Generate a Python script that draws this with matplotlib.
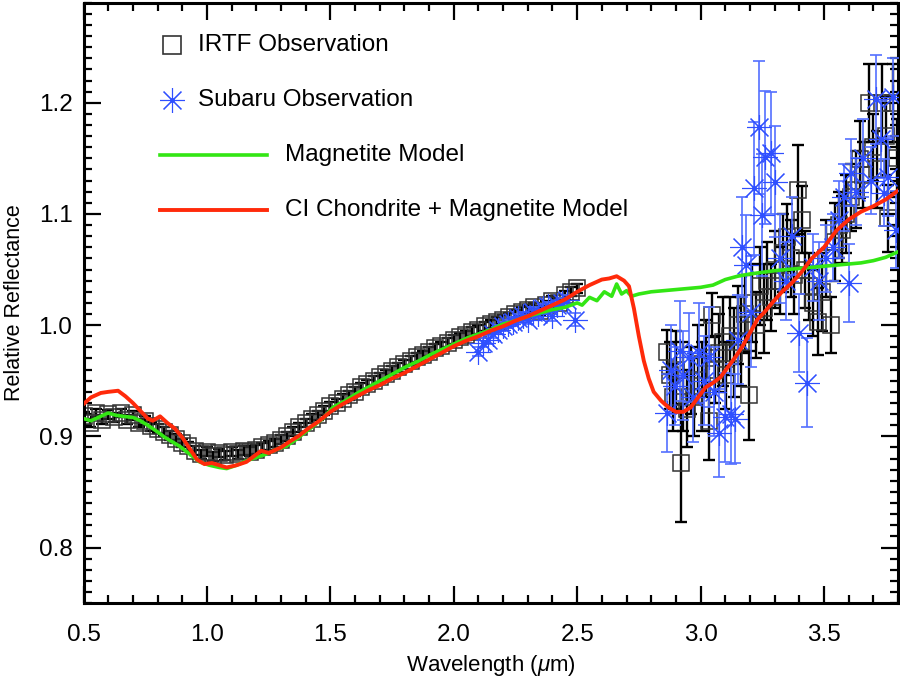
import matplotlib
matplotlib.use("Agg")
import matplotlib.pyplot as plt
from matplotlib.ticker import MultipleLocator, FormatStrFormatter

# ---------------- DATA ----------------
# IRTF, short wavelengths (small errors)
irtf_wl_short = [0.500, 0.525, 0.550, 0.575, 0.600, 0.625, 0.650, 0.675, 0.700, 0.725,
                 0.750, 0.775, 0.800, 0.825, 0.850, 0.875, 0.900, 0.925, 0.950, 0.975,
                 1.000, 1.025, 1.050, 1.075, 1.100, 1.125, 1.150, 1.175, 1.200, 1.225,
                 1.250, 1.275, 1.300, 1.325, 1.350, 1.375, 1.400, 1.425, 1.450, 1.475,
                 1.500, 1.525, 1.550, 1.575, 1.600, 1.625, 1.650, 1.675, 1.700, 1.725,
                 1.750, 1.775, 1.800, 1.825, 1.850, 1.875, 1.900, 1.925, 1.950, 1.975,
                 2.000, 2.025, 2.050, 2.075, 2.100, 2.125, 2.150, 2.175, 2.200, 2.225,
                 2.250, 2.275, 2.300, 2.325, 2.350, 2.375, 2.400, 2.425, 2.450, 2.475, 2.500]
irtf_refl_short = [0.918, 0.912, 0.921, 0.915, 0.920, 0.917, 0.921, 0.915, 0.919, 0.912,
                   0.914, 0.909, 0.907, 0.904, 0.901, 0.898, 0.894, 0.891, 0.887, 0.884,
                   0.886, 0.882, 0.885, 0.883, 0.886, 0.884, 0.887, 0.886, 0.888, 0.890,
                   0.892, 0.894, 0.897, 0.900, 0.904, 0.908, 0.912, 0.916, 0.919, 0.923,
                   0.927, 0.930, 0.934, 0.937, 0.940, 0.944, 0.947, 0.950, 0.953, 0.956,
                   0.959, 0.962, 0.965, 0.968, 0.971, 0.973, 0.976, 0.979, 0.981, 0.984,
                   0.987, 0.989, 0.991, 0.994, 0.996, 0.999, 1.001, 1.003, 1.005, 1.007,
                   1.010, 1.012, 1.014, 1.016, 1.013, 1.018, 1.022, 1.020, 1.027, 1.030, 1.033]
irtf_err_short = [0.004] * len(irtf_wl_short)

# IRTF, 3 micron region
irtf_wl_long = [2.862, 2.875, 2.887, 2.900, 2.920, 2.930, 2.945, 2.960, 2.975, 2.990,
                3.005, 3.020, 3.036, 3.048, 3.060, 3.075, 3.090, 3.105, 3.120, 3.135,
                3.150, 3.165, 3.180, 3.198, 3.210, 3.225, 3.240, 3.255, 3.270, 3.285,
                3.300, 3.320, 3.335, 3.350, 3.365, 3.380, 3.396, 3.410, 3.425, 3.440,
                3.455, 3.474, 3.490, 3.510, 3.530, 3.545, 3.560, 3.575, 3.590, 3.610,
                3.630, 3.645, 3.660, 3.684, 3.700, 3.715, 3.736, 3.750, 3.760, 3.780, 3.795]
irtf_refl_long = [0.976, 0.955, 0.935, 0.960, 0.876, 0.945, 0.925, 0.950, 0.935, 0.965,
                  0.945, 0.970, 0.914, 1.009, 0.960, 0.975, 0.985, 0.955, 0.990, 0.975,
                  1.000, 0.985, 1.010, 0.937, 1.020, 1.000, 1.035, 1.015, 1.040, 1.025,
                  1.050, 1.040, 1.065, 1.079, 1.060, 1.045, 1.122, 1.095, 1.050, 1.035,
                  1.020, 1.003, 1.030, 1.060, 1.000, 1.075, 1.090, 1.086, 1.100, 1.115,
                  1.122, 1.149, 1.135, 1.200, 1.160, 1.140, 1.200, 1.170, 1.096, 1.200, 1.150]
irtf_err_long = [0.020, 0.030, 0.030, 0.035, 0.053, 0.040, 0.035, 0.030, 0.035, 0.035,
                 0.040, 0.035, 0.035, 0.020, 0.030, 0.035, 0.040, 0.030, 0.035, 0.040,
                 0.035, 0.040, 0.035, 0.040, 0.035, 0.030, 0.035, 0.040, 0.035, 0.030,
                 0.035, 0.030, 0.035, 0.030, 0.035, 0.035, 0.040, 0.030, 0.035, 0.030,
                 0.030, 0.030, 0.035, 0.035, 0.025, 0.035, 0.030, 0.030, 0.035, 0.030,
                 0.035, 0.035, 0.030, 0.035, 0.030, 0.035, 0.035, 0.035, 0.030, 0.035, 0.035]

# Subaru observations
subaru_wl = [2.100, 2.120, 2.140, 2.160, 2.180, 2.200, 2.220, 2.240, 2.260, 2.280,
             2.300, 2.320, 2.340, 2.360, 2.380, 2.400, 2.420, 2.440, 2.460, 2.490,
             2.862, 2.880, 2.895, 2.915, 2.930, 2.955, 2.970, 2.995, 3.015, 3.036,
             3.055, 3.076, 3.097, 3.125, 3.138, 3.150, 3.166, 3.185, 3.206, 3.218,
             3.235, 3.250, 3.263, 3.287, 3.300, 3.320, 3.345, 3.370, 3.400, 3.430,
             3.455, 3.480, 3.510, 3.535, 3.560, 3.583, 3.600, 3.610, 3.630, 3.660,
             3.690, 3.710, 3.730, 3.745, 3.760, 3.780, 3.790]
subaru_refl = [0.976, 0.984, 0.987, 0.992, 0.996, 0.999, 1.001, 1.003, 1.006, 1.008,
               1.005, 1.012, 1.010, 1.015, 1.017, 1.008, 1.018, 1.020, 1.023, 1.005,
               0.921, 0.960, 0.945, 0.977, 0.955, 0.971, 0.935, 0.975, 0.950, 0.971,
               0.940, 0.903, 0.917, 0.920, 0.916, 0.987, 1.070, 1.054, 1.012, 1.123,
               1.178, 1.099, 1.151, 1.155, 1.129, 1.060, 1.040, 1.080, 0.993, 0.948,
               1.052, 1.040, 1.060, 1.070, 1.095, 1.115, 1.038, 1.137, 1.120, 1.150,
               1.130, 1.203, 1.167, 1.119, 1.133, 1.205, 1.086]
subaru_err = [0.004, 0.004, 0.004, 0.004, 0.004, 0.004, 0.004, 0.004, 0.004, 0.004,
              0.004, 0.004, 0.004, 0.004, 0.004, 0.004, 0.004, 0.004, 0.004, 0.006,
              0.035, 0.040, 0.035, 0.045, 0.040, 0.040, 0.040, 0.045, 0.040, 0.045,
              0.040, 0.040, 0.040, 0.045, 0.040, 0.040, 0.045, 0.045, 0.050, 0.060,
              0.060, 0.055, 0.060, 0.055, 0.050, 0.040, 0.035, 0.035, 0.035, 0.040,
              0.030, 0.035, 0.030, 0.030, 0.035, 0.030, 0.035, 0.030, 0.030, 0.035,
              0.030, 0.040, 0.035, 0.030, 0.035, 0.035, 0.035]

# Magnetite model
mag_wl = [0.50, 0.53, 0.56, 0.60, 0.63, 0.66, 0.70, 0.73, 0.76, 0.80,
          0.83, 0.86, 0.89, 0.93, 0.97, 1.01, 1.05, 1.08, 1.12, 1.16,
          1.20, 1.24, 1.28, 1.32, 1.36, 1.40, 1.43, 1.47, 1.51, 1.56,
          1.61, 1.66, 1.71, 1.76, 1.81, 1.86, 1.91, 1.96, 2.01, 2.06,
          2.10, 2.15, 2.20, 2.25, 2.30, 2.35, 2.40, 2.45, 2.50, 2.52,
          2.55, 2.58, 2.61, 2.64, 2.66, 2.68, 2.70, 2.72, 2.75, 2.80,
          2.90, 3.00, 3.05, 3.10, 3.15, 3.20, 3.30, 3.40, 3.50, 3.60,
          3.65, 3.70, 3.75, 3.80]
mag_refl = [0.916, 0.914, 0.917, 0.921, 0.919, 0.918, 0.917, 0.914, 0.910, 0.904,
            0.899, 0.895, 0.891, 0.884, 0.877, 0.874, 0.872, 0.871, 0.874, 0.878,
            0.881, 0.884, 0.888, 0.891, 0.897, 0.904, 0.909, 0.916, 0.926, 0.932,
            0.939, 0.945, 0.951, 0.957, 0.963, 0.968, 0.974, 0.979, 0.984, 0.989,
            0.992, 0.996, 1.001, 1.004, 1.008, 1.011, 1.014, 1.016, 1.020, 1.018,
            1.025, 1.022, 1.030, 1.026, 1.037, 1.028, 1.031, 1.026, 1.028, 1.030,
            1.032, 1.034, 1.036, 1.041, 1.044, 1.046, 1.049, 1.051, 1.053, 1.055,
            1.056, 1.058, 1.061, 1.066]

# CI chondrite + magnetite model
ci_wl = [0.50, 0.53, 0.57, 0.60, 0.64, 0.67, 0.70, 0.73, 0.76, 0.78,
         0.81, 0.84, 0.87, 0.90, 0.93, 0.96, 0.99, 1.02, 1.05, 1.08,
         1.12, 1.16, 1.19, 1.22, 1.25, 1.27, 1.30, 1.34, 1.37, 1.41,
         1.45, 1.50, 1.55, 1.60, 1.65, 1.70, 1.75, 1.80, 1.85, 1.90,
         1.95, 2.00, 2.05, 2.10, 2.15, 2.20, 2.25, 2.30, 2.35, 2.40,
         2.45, 2.50, 2.55, 2.60, 2.63, 2.66, 2.69, 2.71, 2.73, 2.75,
         2.77, 2.79, 2.81, 2.84, 2.87, 2.90, 2.93, 2.96, 2.99, 3.02,
         3.05, 3.08, 3.11, 3.14, 3.17, 3.20, 3.23, 3.26, 3.29, 3.33,
         3.37, 3.41, 3.45, 3.50, 3.55, 3.60, 3.65, 3.70, 3.75, 3.80]
ci_refl = [0.929, 0.935, 0.939, 0.940, 0.941, 0.936, 0.930, 0.923, 0.916, 0.914,
           0.918, 0.912, 0.907, 0.899, 0.889, 0.879, 0.875, 0.876, 0.874, 0.872,
           0.874, 0.877, 0.882, 0.887, 0.885, 0.887, 0.890, 0.896, 0.900, 0.907,
           0.913, 0.922, 0.929, 0.935, 0.941, 0.946, 0.952, 0.957, 0.963, 0.969,
           0.975, 0.981, 0.986, 0.990, 0.995, 0.999, 1.004, 1.008, 1.013, 1.018,
           1.023, 1.030, 1.036, 1.041, 1.042, 1.044, 1.040, 1.035, 1.015, 0.990,
           0.968, 0.952, 0.940, 0.932, 0.926, 0.922, 0.922, 0.926, 0.935, 0.944,
           0.948, 0.953, 0.962, 0.971, 0.981, 0.993, 1.005, 1.012, 1.020, 1.030,
           1.038, 1.048, 1.060, 1.070, 1.085, 1.095, 1.102, 1.107, 1.113, 1.121]

x_ticks = [0.5, 1.0, 1.5, 2.0, 2.5, 3.0, 3.5]
y_ticks = [0.8, 0.9, 1.0, 1.1, 1.2]

legend_labels = ["IRTF Observation", "Subaru Observation",
                 "Magnetite Model", "CI Chondrite + Magnetite Model"]

# ---------------- STYLE ----------------
plt.rcParams['font.family'] = ['Liberation Sans', 'DejaVu Sans']
plt.rcParams['mathtext.fontset'] = 'custom'
plt.rcParams['mathtext.rm'] = 'Liberation Sans'
plt.rcParams['mathtext.it'] = 'Liberation Sans:italic'

green = "#33e614"
red = "#ff2a0a"
blue = "#2f4fff"
blue_err = "#5470ff"
square_edge = "#333333"

fig = plt.figure(figsize=(9, 6.83), dpi=100)
ax = fig.add_axes([0.0928, 0.117, 0.905, 0.879])

# ---------------- DATA PLOTS ----------------
irtf_wl = irtf_wl_short + irtf_wl_long
irtf_refl = irtf_refl_short + irtf_refl_long
irtf_err = irtf_err_short + irtf_err_long

ax.errorbar(irtf_wl, irtf_refl, yerr=irtf_err, fmt='none', ecolor='black',
            elinewidth=1.7, capsize=4.0, capthick=1.7, zorder=2)
ax.plot(irtf_wl, irtf_refl, linestyle='none', marker='s', markersize=11.5,
        markerfacecolor='none', markeredgecolor=square_edge, markeredgewidth=1.1, zorder=2)

ax.errorbar(subaru_wl, subaru_refl, yerr=subaru_err, fmt='none', ecolor=blue_err,
            elinewidth=1.2, capsize=4.0, capthick=1.2, zorder=3)
ax.plot(subaru_wl, subaru_refl, linestyle='none', marker=(8, 2, 0), markersize=18,
        markeredgecolor=blue, markerfacecolor=blue, markeredgewidth=0.8, zorder=3)
ax.plot(subaru_wl, subaru_refl, linestyle='none', marker='o', markersize=2.5,
        color=blue, zorder=3)

ax.plot(mag_wl, mag_refl, color=green, linewidth=2.6, zorder=4)
ax.plot(ci_wl, ci_refl, color=red, linewidth=2.8, zorder=5)

# ---------------- LEGEND (drawn by hand, IDL style) ----------------
tr = ax.transAxes
ax.plot([0.1087], [0.930], transform=tr, linestyle='none', marker='s', markersize=13,
        markerfacecolor='none', markeredgecolor=square_edge, markeredgewidth=1.2)
ax.text(0.1406, 0.930, legend_labels[0], transform=tr, fontsize=17.5, va='center')

ax.plot([0.1087], [0.838], transform=tr, linestyle='none', marker=(8, 2, 0), markersize=18,
        markeredgecolor=blue, markeredgewidth=0.8)
ax.plot([0.1087], [0.838], transform=tr, linestyle='none', marker='o', markersize=2.5, color=blue)
ax.text(0.1406, 0.838, legend_labels[1], transform=tr, fontsize=17.5, va='center')

ax.plot([0.094, 0.2253], [0.7467, 0.7467], transform=tr, color=green, linewidth=2.6)
ax.text(0.2474, 0.7467, legend_labels[2], transform=tr, fontsize=17.5, va='center')

ax.plot([0.094, 0.2253], [0.655, 0.655], transform=tr, color=red, linewidth=2.8)
ax.text(0.2474, 0.655, legend_labels[3], transform=tr, fontsize=17.5, va='center')

# ---------------- AXES ----------------
ax.set_xlim(0.5, 3.8)
ax.set_ylim(0.75, 1.29)
ax.set_xticks(x_ticks)
ax.set_yticks(y_ticks)
ax.xaxis.set_minor_locator(MultipleLocator(0.1))
ax.yaxis.set_minor_locator(MultipleLocator(0.01))
ax.xaxis.set_major_formatter(FormatStrFormatter('%.1f'))
ax.yaxis.set_major_formatter(FormatStrFormatter('%.1f'))
ax.tick_params(which='both', direction='in', top=True, right=True, labelsize=17.5, width=1.6)
ax.tick_params(which='major', length=12)
ax.tick_params(which='minor', length=6)
ax.tick_params(axis='x', which='major', pad=15)
ax.tick_params(axis='y', which='major', pad=8)
for s in ax.spines.values():
    s.set_linewidth(2.2)

ax.set_xlabel("Wavelength ($\\mu$m)", fontsize=16, labelpad=5)
ax.set_ylabel("Relative Reflectance", fontsize=15.5, labelpad=10)

plt.savefig("out.png", dpi=100)
